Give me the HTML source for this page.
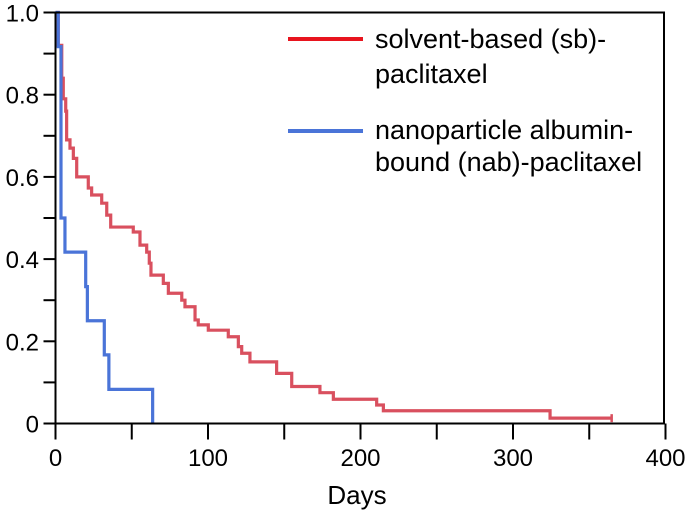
<!DOCTYPE html>
<html><head><meta charset="utf-8"><style>
html,body{margin:0;padding:0;background:#fff;}
svg{display:block;font-family:"Liberation Sans",Arial,sans-serif;}
</style></head><body>
<svg id="chart" width="685" height="513" viewBox="0 0 685 513"></svg>
<script>
const xTicks=[0,100,200,300,400];
const xMinorTicks=[50,150,250,350];
const yTicks=[0,0.2,0.4,0.6,0.8,1.0];
const yTickLabels=["0","0.2","0.4","0.6","0.8","1.0"];
const yMinorTicks=[0.1,0.3,0.5,0.7,0.9];
const sbDays=[0,1.8,4.1,5.1,6.7,7.3,9.5,11.7,13.9,21.5,23.7,30.3,33.6,36.2,51,55.4,59.8,61.5,62.6,70.7,74,82.8,84.9,91.5,93.6,100.2,113.3,119.9,122.1,127.5,145,154.9,173.4,182.2,210.6,215,324.3,364.7];
const sbSurv=[1.0,0.92,0.84,0.79,0.76,0.69,0.67,0.645,0.60,0.573,0.556,0.536,0.507,0.478,0.466,0.434,0.417,0.39,0.361,0.341,0.317,0.30,0.284,0.252,0.24,0.227,0.211,0.187,0.171,0.15,0.122,0.09,0.075,0.059,0.045,0.031,0.013,0.013];
const nabDays=[0,1.8,3.6,3.6,6.2,19.8,20.9,32,35,63.7];
const nabSurv=[1.0,0.917,0.667,0.5,0.417,0.333,0.25,0.167,0.083,0];
const X0=55.5,X1=665.5,Y0=423.5,Y1=12.5;
const xs=d=>X0+(X1-X0)*d/400;
const ys=v=>Y0-(Y0-Y1)*v;
const NS="http://www.w3.org/2000/svg";
const svg=document.getElementById('chart');
function mk(tag,attrs,parent){const e=document.createElementNS(NS,tag);for(const k in attrs)e.setAttribute(k,attrs[k]);(parent||svg).appendChild(e);return e;}
function stepPath(days,surv){let d=`M${xs(days[0])},${ys(surv[0])}`;for(let i=1;i<days.length;i++){d+=` H${xs(days[i])} V${ys(surv[i])}`;}return d;}
let p=mk('path',{d:stepPath(sbDays,sbSurv),fill:'none',stroke:'#d9505f','stroke-width':3.2});


const last=sbDays.length-1;
let cm=mk('line',{x1:xs(sbDays[last]),x2:xs(sbDays[last]),y1:ys(sbSurv[last])-4,y2:ys(sbSurv[last])+4,stroke:'#d9505f','stroke-width':2.5});


let q=mk('path',{d:stepPath(nabDays,nabSurv),fill:'none',stroke:'#4a74d8','stroke-width':3.2});


let fr=mk('rect',{x:X0,y:Y1,width:X1-X0-1.5,height:Y0-Y1,fill:'none',stroke:'#000','stroke-width':2});


xTicks.concat(xMinorTicks).forEach(t=>{
 let l=mk('line',{x1:xs(t),x2:xs(t),y1:Y0,y2:Y0+16,stroke:'#000','stroke-width':2});
 
 
});
xTicks.forEach(t=>{
 let tx=mk('text',{x:xs(t),y:466,'font-size':24,'text-anchor':'middle',fill:'#000'});
 tx.textContent=t;
 
 
});
yTicks.concat(yMinorTicks).forEach(t=>{
 let l=mk('line',{x1:X0-12,x2:X0,y1:ys(t),y2:ys(t),stroke:'#000','stroke-width':2});
 
 
});
yTicks.forEach((t,i)=>{
 let tx=mk('text',{x:39,y:ys(t)+9,'font-size':24,'text-anchor':'end',fill:'#000'});
 tx.textContent=yTickLabels[i];
 
 
});
let xt=mk('text',{x:357,y:504,'font-size':26,'text-anchor':'middle',fill:'#000'});
xt.textContent='Days';


const lg=mk('g',{});


let l1=mk('line',{x1:288,x2:363,y1:39,y2:39,stroke:'#e8141e','stroke-width':4},lg);


let l2=mk('line',{x1:288,x2:363,y1:131,y2:131,stroke:'#4a74d8','stroke-width':4},lg);


[["solvent-based (sb)-",48],["paclitaxel",83],["nanoparticle albumin-",139],["bound (nab)-paclitaxel",171]].forEach(([s,y])=>{
 let t=mk('text',{x:375,y:y,'font-size':27,fill:'#000'},lg);
 t.textContent=s;
 
 
});
</script>
</body></html>
